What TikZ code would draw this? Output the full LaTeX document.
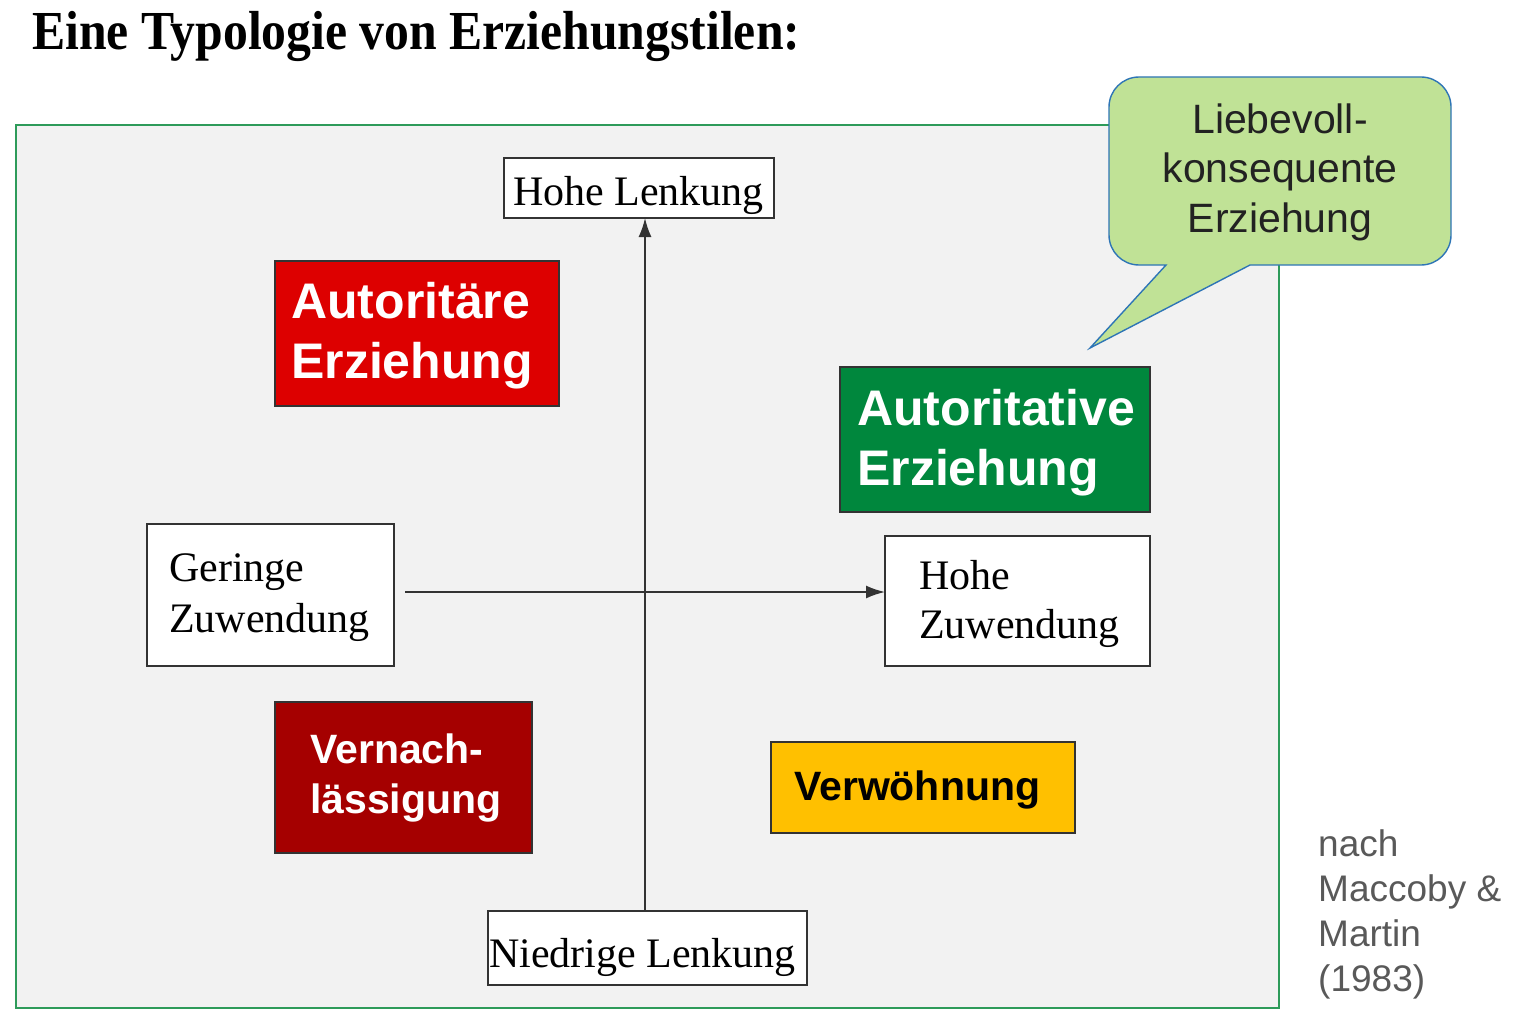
\documentclass[tikz,border=0pt]{standalone}
\usepackage{fontspec}
\usepackage{graphicx}
\setmainfont{Liberation Serif}
\setsansfont{Liberation Sans}
\usetikzlibrary{arrows.meta}
\definecolor{framefill}{HTML}{F2F2F2}
\definecolor{frameline}{HTML}{2E9B5A}
\definecolor{boxline}{HTML}{333333}
\definecolor{autred}{HTML}{DD0000}
\definecolor{atigreen}{HTML}{00873D}
\definecolor{verred}{HTML}{A50000}
\definecolor{amber}{HTML}{FFC000}
\definecolor{callfill}{HTML}{C0E296}
\definecolor{callline}{HTML}{2E75B6}
\definecolor{srcgray}{HTML}{595959}
\definecolor{calltext}{HTML}{222222}
\begin{document}
\begin{tikzpicture}[x=1pt,y=-1pt,
  box/.style={draw=boxline, line width=1.6pt, inner sep=0pt, outer sep=0pt},
  serifbig/.style={font=\fontsize{42}{51}\selectfont, text=black, inner sep=0pt, anchor=base west},
  styletext/.style={font=\sffamily\bfseries\fontsize{50}{60}\selectfont, text=white, inner sep=0pt, anchor=base west},
  axis/.style={draw=boxline, line width=1.8pt},
  tip/.style={-{Latex[length=19pt,width=13pt]}}
]
\useasboundingbox (0,0) rectangle (1517,1014);
% frame
\node[draw=frameline, fill=framefill, line width=1.6pt, minimum width=1263pt, minimum height=883pt, inner sep=0pt] (frame) at (647.5,566.5) {};
% title
\node[anchor=base west, inner sep=0pt] (title) at (32,50) {\resizebox{768pt}{\height}{\fontsize{55}{60}\selectfont\bfseries Eine Typologie von Erziehungstilen:}};
% boxes
\node[box, fill=white, minimum width=270pt, minimum height=60pt] (hl) at (639,188) {};
\node[box, fill=autred, minimum width=284pt, minimum height=145pt] (aut) at (417,333.5) {};
\node[box, fill=atigreen, minimum width=310pt, minimum height=145pt] (ati) at (995,439.5) {};
\node[box, fill=white, minimum width=247pt, minimum height=142pt] (gz) at (270.5,595) {};
\node[box, fill=white, minimum width=265pt, minimum height=130pt] (hz) at (1017.5,601) {};
\node[box, fill=verred, minimum width=257pt, minimum height=151pt] (ver) at (403.5,777.5) {};
\node[box, fill=amber, minimum width=304pt, minimum height=91pt] (vw) at (923,787.5) {};
\node[box, fill=white, minimum width=319pt, minimum height=74pt] (nl) at (647.5,948) {};
% axes
\coordinate (vx) at (645,0);
\draw[axis, tip] (vx |- nl.north) -- (vx |- hl.south);
\coordinate (hstart) at (405,592);
\draw[axis, tip] (hstart) -- (hstart -| hz.west);
% texts
\node[serifbig] (hlt) at (513,205) {Hohe Lenkung};
\node[serifbig] (nlt) at (489,967) {Niedrige Lenkung};
\node[serifbig] (gzt) at (169,581) {\parbox[t]{240pt}{\raggedright Geringe\\Zuwendung}};
\node[serifbig] (hzt) at (919,589) {\parbox[t]{240pt}{\raggedright\fontsize{42}{49}\selectfont Hohe\\Zuwendung}};
\node[styletext] (autt) at (291,318) {\parbox[t]{280pt}{\raggedright Autoritäre\\Erziehung}};
\node[styletext] (atit) at (857,425) {\parbox[t]{300pt}{\raggedright Autoritative\\Erziehung}};
\node[styletext, font=\sffamily\bfseries\fontsize{41}{50}\selectfont] (vert) at (310,763) {\parbox[t]{250pt}{\raggedright Vernach-\\lässigung}};
\node[styletext, text=black, font=\sffamily\bfseries\fontsize{41}{50}\selectfont] (vwt) at (794,800) {Verwöhnung};
% callout
\draw[fill=callfill, draw=callline, line width=1.4pt, line join=miter] (1250,265) [rounded corners=30pt] -| (1451,77) -| (1109,265) [sharp corners] -- (1166,265) -- (1090,348) -- cycle;
\node[anchor=base, inner sep=0pt, text=calltext, font=\sffamily\fontsize{41}{50}\selectfont] (callt) at (1280,133) {\parbox[t]{330pt}{\centering Liebevoll-\\konsequente\\Erziehung}};
% source
\node[anchor=base west, inner sep=0pt, text=srcgray, font=\sffamily\fontsize{37}{45}\selectfont] (src) at (1318,856) {\parbox[t]{200pt}{\raggedright nach\\Maccoby \&\\Martin\\(1983)}};
\end{tikzpicture}
\end{document}
